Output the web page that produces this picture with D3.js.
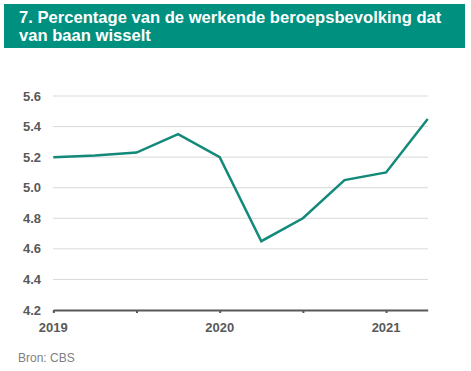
<!DOCTYPE html>
<html><head><meta charset="utf-8">
<script src="https://cdn.jsdelivr.net/npm/d3@7"></script>
<style>body{margin:0;background:#fff;}svg{display:block;font-family:"Liberation Sans",Arial,sans-serif;}</style>
</head><body>
<script>
const titleLines = ["7. Percentage van de werkende beroepsbevolking dat", "van baan wisselt"];
const quarters = ["2019Q1","2019Q2","2019Q3","2019Q4","2020Q1","2020Q2","2020Q3","2020Q4","2021Q1","2021Q2"];
const values = [5.20, 5.21, 5.23, 5.35, 5.20, 4.65, 4.80, 5.05, 5.10, 5.45];
const yTicks = [4.2, 4.4, 4.6, 4.8, 5.0, 5.2, 5.4, 5.6];
const xTickLabels = {"2019Q1":"2019","2020Q1":"2020","2021Q1":"2021"};
const source = "Bron: CBS";

const W = 471, H = 371;
const svg = d3.select("body").append("svg").attr("width", W).attr("height", H);

// title banner
svg.append("rect").attr("x",4).attr("y",4).attr("width",461).attr("height",44).attr("fill","#00907f");
svg.selectAll("text.title").data(titleLines).enter().append("text")
  .attr("x",19).attr("y",(d,i)=>23+i*18)
  .attr("fill","#fff").attr("font-size","16.6px").attr("font-weight","bold").text(d=>d);

const x = d3.scalePoint().domain(quarters).range([53.3, 427.7]);
const y = d3.scaleLinear().domain([4.2, 5.6]).range([310, 96]);

// gridlines
svg.append("g").selectAll("line").data(yTicks.filter(t=>t>4.2)).enter().append("line")
  .attr("x1",53).attr("x2",428).attr("y1",d=>y(d)).attr("y2",d=>y(d))
  .attr("stroke","#d9d9d9").attr("stroke-width",1);

// y labels
svg.append("g").selectAll("text").data(yTicks).enter().append("text")
  .attr("x",41).attr("y",d=>y(d)).attr("dy","0.35em").attr("text-anchor","end")
  .attr("fill","#595959").attr("font-size","13px").attr("font-weight","bold")
  .text(d=>d3.format(".1f")(d));

// x axis
const xAxis = d3.axisBottom(x)
  .tickValues(quarters.filter((q,i)=>i%2===0))
  .tickSize(3).tickSizeOuter(0).tickFormat(()=>"");
const gx = svg.append("g").attr("transform",`translate(0,${y(4.2)})`).call(xAxis);
gx.select(".domain").attr("stroke","#595959").attr("stroke-width",2.2);
gx.selectAll(".tick line").attr("stroke","#595959").attr("stroke-width",2);

svg.append("g").selectAll("text").data(quarters.filter(q=>xTickLabels[q])).enter().append("text")
  .attr("x",d=>x(d)).attr("y",332).attr("text-anchor","middle")
  .attr("fill","#595959").attr("font-size","13px").attr("font-weight","bold")
  .text(d=>xTickLabels[d]);

// line
const line = d3.line().x((d,i)=>x(quarters[i])).y(d=>y(d));
svg.append("path").datum(values).attr("d",line).attr("fill","none")
  .attr("stroke","#13897a").attr("stroke-width",2.5).attr("stroke-linejoin","miter");

svg.append("text").attr("x",18).attr("y",362).attr("fill","#808080").attr("font-size","12px").text(source);
</script>
</body></html>
